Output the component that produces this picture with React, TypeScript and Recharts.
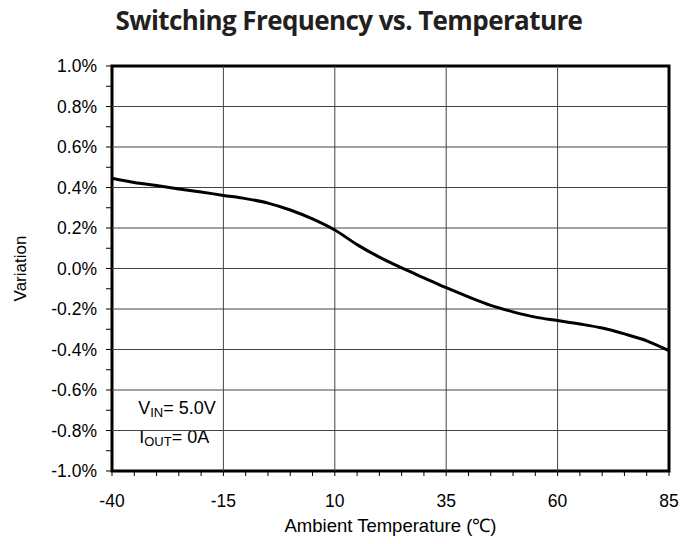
import React from 'react'
import { LineChart, Line, XAxis, YAxis, ReferenceLine, ReferenceArea } from 'recharts'

// ambient temperature (°C) and frequency variation (%)
const temps = [-40, -35, -30, -25, -20, -15, -10, -5, 0, 5, 10, 15, 20, 25, 30, 35, 40, 45, 50, 55, 60, 65, 70, 75, 80, 85]
const variation = [0.446, 0.425, 0.41, 0.393, 0.378, 0.361, 0.345, 0.323, 0.289, 0.245, 0.19, 0.118, 0.056, 0.003, -0.046, -0.095, -0.14, -0.182, -0.214, -0.24, -0.257, -0.274, -0.294, -0.323, -0.357, -0.406]

const xTicks = [-40, -35, -30, -25, -20, -15, -10, -5, 0, 5, 10, 15, 20, 25, 30, 35, 40, 45, 50, 55, 60, 65, 70, 75, 80, 85]
const xMajor = [-40, -15, 10, 35, 60, 85]
const yTicks = [-1.0, -0.9, -0.8, -0.7, -0.6, -0.5, -0.4, -0.3, -0.2, -0.1, 0, 0.1, 0.2, 0.3, 0.4, 0.5, 0.6, 0.7, 0.8, 0.9, 1.0]
const yMajor = [-0.8, -0.6, -0.4, -0.2, 0, 0.2, 0.4, 0.6, 0.8]
const xGrid = [-15, 10, 35, 60]

const data = temps.map((t, i) => ({ t, v: variation[i] }))

const font = '"Liberation Sans", Arial, sans-serif'

const fmtY = (v: number) => {
  if (Math.round(v * 10) % 2 !== 0) return ''
  const s = (Math.abs(v) < 1e-9 ? 0 : v).toFixed(1)
  return s + '%'
}
const fmtX = (v: number) => (xMajor.includes(v) ? String(v) : '')

const Note = (props: any) => {
  const { x, y } = props.viewBox
  return (
    <g fontFamily={font} fill="#000">
      <text x={x + 7} y={y + 25} fontSize={18}>
        V<tspan fontSize={13} dy={3}>IN</tspan>
        <tspan fontSize={18} dy={-3}>= 5.0V</tspan>
      </text>
      <text x={x + 8} y={y + 54} fontSize={18}>
        I<tspan fontSize={13} dy={3}>OUT</tspan>
        <tspan fontSize={18} dy={-3}>= 0A</tspan>
      </text>
    </g>
  )
}

export default function App() {
  return (
    <div style={{ position: 'absolute', left: 0, top: 0, width: 698, height: 544, background: '#fff' }}>
      <div
        style={{
          position: 'absolute',
          left: 0,
          top: 2,
          width: 698,
          textAlign: 'center',
          fontFamily: '"Open Sans", sans-serif',
          fontWeight: 700,
          fontSize: 26,
          color: '#231f20',
          letterSpacing: -0.6,
          whiteSpace: 'nowrap',
        }}
      >
        Switching Frequency vs. Temperature
      </div>
      <LineChart width={698} height={544} data={data} margin={{ top: 66, right: 29, left: 0, bottom: 0 }}>
        <XAxis
          dataKey="t"
          type="number"
          domain={[-40, 85]}
          ticks={xTicks}
          tickFormatter={fmtX}
          interval={0}
          height={73}
          axisLine={false}
          tickLine={{ stroke: '#000' }}
          tickSize={5}
          tickMargin={19}
          tick={{ fill: '#000', fontSize: 17.5, fontFamily: font }}
          label={{ value: 'Ambient Temperature (℃)', position: 'insideBottom', offset: 12, fill: '#000', fontSize: 18.5, fontFamily: font }}
        />
        <YAxis
          type="number"
          domain={[-1, 1]}
          ticks={yTicks}
          tickFormatter={fmtY}
          interval={0}
          width={112}
          axisLine={false}
          tickLine={{ stroke: '#000' }}
          tickSize={6}
          tickMargin={9}
          tick={{ fill: '#000', fontSize: 17.5, fontFamily: font }}
          label={{ value: 'Variation', angle: -90, position: 'insideLeft', offset: 20, fill: '#000', fontSize: 17, fontFamily: font, style: { textAnchor: 'middle' } }}
        />
        {xGrid.map((x) => (
          <ReferenceLine key={'x' + x} x={x} stroke="#444" strokeWidth={1} />
        ))}
        {yMajor.map((y) => (
          <ReferenceLine key={'y' + y} y={y} stroke="#444" strokeWidth={1} />
        ))}
        <ReferenceArea x1={-35.7} x2={4.2} y1={-0.946} y2={-0.594} fill="#fff" fillOpacity={1} stroke="none" label={Note} />
        <ReferenceArea x1={-40} x2={85} y1={-1} y2={1} fill="none" stroke="#000" strokeWidth={3} />
        <Line type="monotone" dataKey="v" stroke="#000" strokeWidth={3} dot={false} isAnimationActive={false} />
      </LineChart>
    </div>
  )
}
